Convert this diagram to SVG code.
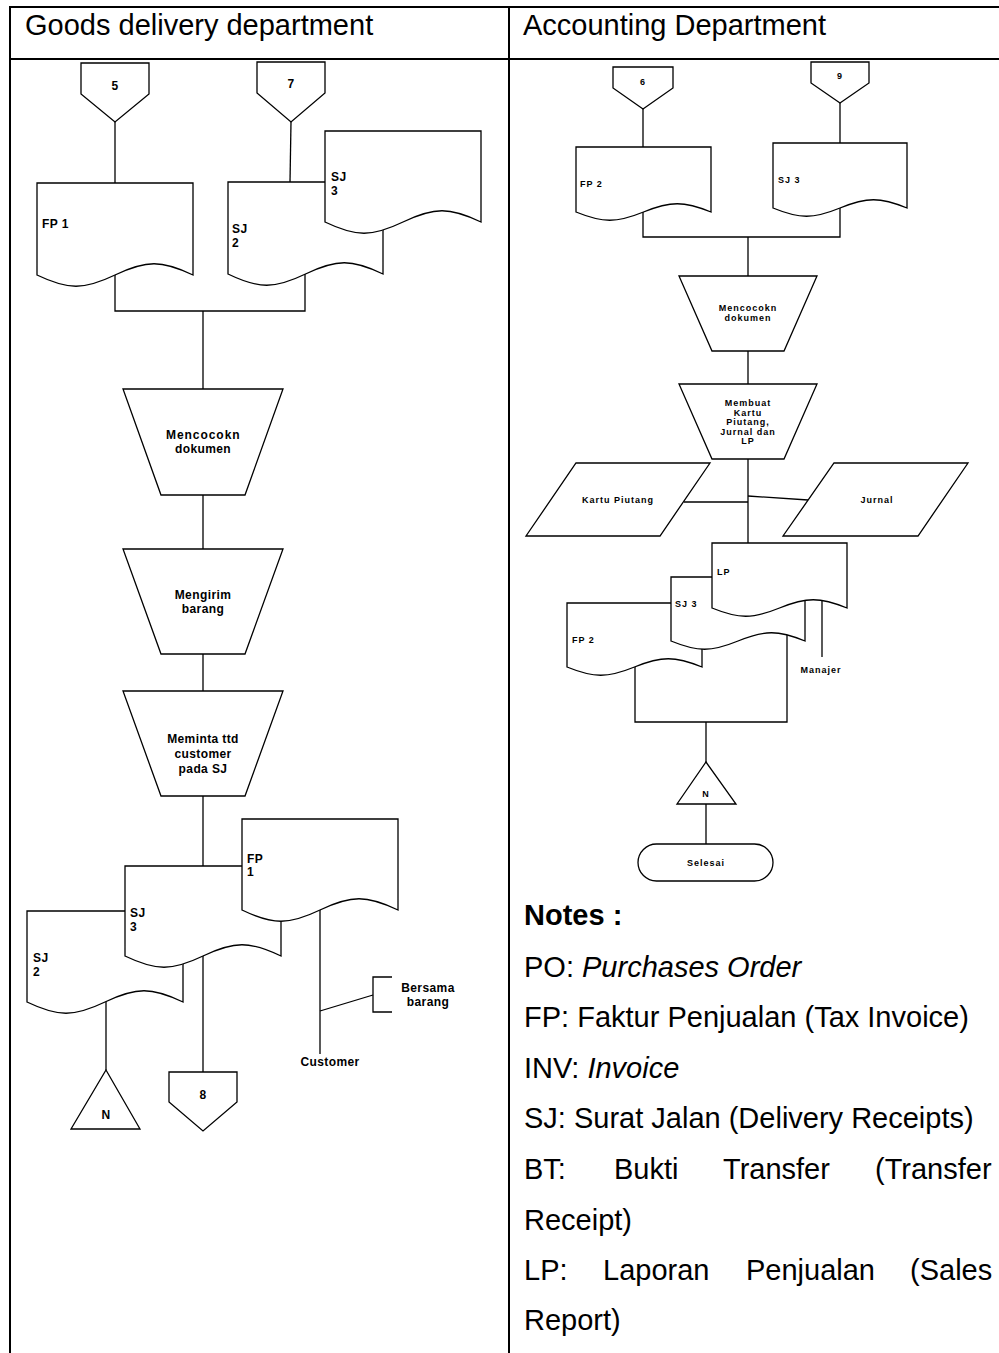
<svg xmlns="http://www.w3.org/2000/svg" width="999" height="1353" viewBox="0 0 999 1353">
  <style>
    .frame { stroke: #000; stroke-width: 2; fill: none; }
    .ln { stroke: #000; stroke-width: 1.3; fill: none; }
    .shp { stroke: #000; stroke-width: 1.3; fill: #fff; stroke-linejoin: miter; }
    .hd { font-family: "Liberation Sans", Arial, sans-serif; font-size: 29px; fill: #000; }
    .hdb { font-family: "Liberation Sans", Arial, sans-serif; font-size: 29px; font-weight: bold; fill: #000; }
    .lb { font-family: "Liberation Sans", Arial, sans-serif; font-size: 12px; font-weight: bold; letter-spacing: 0.4px; fill: #000; }
    .sm { font-family: "Liberation Sans", Arial, sans-serif; font-size: 9px; font-weight: bold; letter-spacing: 1px; fill: #000; }
    .mid { text-anchor: middle; }
  </style>

  <!-- table frame -->
  <g id="table">
    <line class="frame" x1="10" y1="7" x2="1000" y2="7"/>
    <line class="frame" x1="10" y1="59" x2="1000" y2="59"/>
    <line class="frame" x1="10" y1="6" x2="10" y2="1353"/>
    <line class="frame" x1="509" y1="6" x2="509" y2="1353"/>
    <text class="hd" x="25" y="35">Goods delivery department</text>
    <text class="hd" x="523" y="35">Accounting Department</text>
  </g>

  <!-- connectors -->
  <g id="connectors">
    <!-- goods delivery -->
    <line class="ln" x1="115" y1="122" x2="115" y2="183"/>
    <line class="ln" x1="291" y1="122" x2="290" y2="182"/>
    <polyline class="ln" points="115,268 115,311 305,311 305,268"/>
    <line class="ln" x1="203" y1="311" x2="203" y2="389"/>
    <line class="ln" x1="203" y1="495" x2="203" y2="549"/>
    <line class="ln" x1="203" y1="654" x2="203" y2="691"/>
    <line class="ln" x1="203" y1="796" x2="203" y2="866"/>
    <line class="ln" x1="106" y1="995" x2="106" y2="1070"/>
    <line class="ln" x1="203" y1="950" x2="203" y2="1072"/>
    <line class="ln" x1="320" y1="900" x2="320" y2="1054"/>
    <line class="ln" x1="320" y1="1011" x2="373" y2="995"/>
    <!-- accounting -->
    <line class="ln" x1="643" y1="109" x2="643" y2="147"/>
    <line class="ln" x1="840" y1="103" x2="840" y2="143"/>
    <polyline class="ln" points="643,205 643,237 840,237 840,200"/>
    <line class="ln" x1="748" y1="237" x2="748" y2="276"/>
    <line class="ln" x1="748" y1="351" x2="748" y2="384"/>
    <line class="ln" x1="748" y1="459" x2="748" y2="543"/>
    <line class="ln" x1="748" y1="502" x2="684" y2="502"/>
    <line class="ln" x1="748" y1="496" x2="808" y2="500"/>
    <line class="ln" x1="822" y1="595" x2="822" y2="657"/>
    <polyline class="ln" points="635,660 635,722 787,722 787,628"/>
    <line class="ln" x1="706" y1="722" x2="706" y2="762"/>
    <line class="ln" x1="706" y1="804" x2="706" y2="844"/>
  </g>

  <!-- goods delivery department nodes -->
  <g id="off5">
    <polygon class="shp" points="81,63 149,63 149,94 115,122 81,94"/>
    <text class="lb mid" x="115" y="90">5</text>
  </g>
  <g id="off7">
    <polygon class="shp" points="257,62 325,62 325,93 291,122 257,93"/>
    <text class="lb mid" x="291" y="88">7</text>
  </g>
  <g id="docFP1a">
    <path class="shp" d="M37,183 H193 V275 C161.8,260 146.2,260 115,275 C83.8,290 68.2,290 37,275 Z"/>
    <text class="lb" x="42" y="228">FP 1</text>
  </g>
  <g id="docSJ2a">
    <path class="shp" d="M228,182 H383 V274 C352,259 336.5,259 305.5,274 C274.5,289 259,289 228,274 Z"/>
    <text class="lb" x="232" y="233">SJ</text>
    <text class="lb" x="232" y="247">2</text>
  </g>
  <g id="docSJ3a">
    <path class="shp" d="M325,131 H481 V222 C449.8,207 434.2,207 403,222 C371.8,237 356.2,237 325,222 Z"/>
    <text class="lb" x="331" y="181">SJ</text>
    <text class="lb" x="331" y="195">3</text>
  </g>
  <g id="procMatchA">
    <polygon class="shp" points="123,389 283,389 245,495 161,495"/>
    <text class="lb mid" x="203" y="439" textLength="74">Mencocokn</text>
    <text class="lb mid" x="203" y="453">dokumen</text>
  </g>
  <g id="procSend">
    <polygon class="shp" points="123,549 283,549 245,654 161,654"/>
    <text class="lb mid" x="203" y="599">Mengirim</text>
    <text class="lb mid" x="203" y="613">barang</text>
  </g>
  <g id="procSign">
    <polygon class="shp" points="123,691 283,691 245,796 161,796"/>
    <text class="lb mid" x="203" y="743">Meminta ttd</text>
    <text class="lb mid" x="203" y="758">customer</text>
    <text class="lb mid" x="203" y="773">pada SJ</text>
  </g>
  <g id="docSJ2b">
    <path class="shp" d="M27,911 H183 V1002 C151.8,987 136.2,987 105,1002 C73.8,1017 58.2,1017 27,1002 Z"/>
    <text class="lb" x="33" y="962">SJ</text>
    <text class="lb" x="33" y="976">2</text>
  </g>
  <g id="docSJ3b">
    <path class="shp" d="M125,866 H281 V956 C249.8,941 234.2,941 203,956 C171.8,971 156.2,971 125,956 Z"/>
    <text class="lb" x="130" y="917">SJ</text>
    <text class="lb" x="130" y="931">3</text>
  </g>
  <g id="docFP1b">
    <path class="shp" d="M242,819 H398 V910 C366.8,895 351.2,895 320,910 C288.8,925 273.2,925 242,910 Z"/>
    <text class="lb" x="247" y="863">FP</text>
    <text class="lb" x="247" y="876">1</text>
  </g>
  <g id="noteGoods">
    <polyline class="ln" points="392,977 373,977 373,1012 392,1012"/>
    <text class="lb mid" x="428" y="992">Bersama</text>
    <text class="lb mid" x="428" y="1006">barang</text>
  </g>
  <g id="customer">
    <text class="lb mid" x="330" y="1066">Customer</text>
  </g>
  <g id="fileN1">
    <polygon class="shp" points="106,1070 140,1129 71,1129"/>
    <text class="lb mid" x="106" y="1119">N</text>
  </g>
  <g id="off8">
    <polygon class="shp" points="169,1072 237,1072 237,1102 203,1131 169,1102"/>
    <text class="lb mid" x="203" y="1099">8</text>
  </g>

  <!-- accounting department nodes -->
  <g id="off6">
    <polygon class="shp" points="613,67 673,67 673,88 643,109 613,88"/>
    <text class="sm mid" x="643" y="85">6</text>
  </g>
  <g id="off9">
    <polygon class="shp" points="811,62 869,62 869,83 840,103 811,83"/>
    <text class="sm mid" x="840" y="79">9</text>
  </g>
  <g id="docFP2a">
    <path class="shp" d="M576,147 H711 V212 C684,201 670.5,201 643.5,212 C616.5,223 603,223 576,212 Z"/>
    <text class="sm" x="580" y="187">FP 2</text>
  </g>
  <g id="docSJ3c">
    <path class="shp" d="M773,143 H907 V208 C880.2,197 866.8,197 840,208 C813.2,219 799.8,219 773,208 Z"/>
    <text class="sm" x="778" y="183">SJ 3</text>
  </g>
  <g id="procMatchB">
    <polygon class="shp" points="679,276 817,276 784,351 712,351"/>
    <text class="sm mid" x="748" y="311">Mencocokn</text>
    <text class="sm mid" x="748" y="321">dokumen</text>
  </g>
  <g id="procRecord">
    <polygon class="shp" points="679,384 817,384 784,459 712,459"/>
    <text class="sm mid" x="748" y="406">Membuat</text>
    <text class="sm mid" x="748" y="415.5">Kartu</text>
    <text class="sm mid" x="748" y="425">Piutang,</text>
    <text class="sm mid" x="748" y="434.5">Jurnal dan</text>
    <text class="sm mid" x="748" y="444">LP</text>
  </g>
  <g id="kartuPiutang">
    <polygon class="shp" points="576,463 710,463 660,536 526,536"/>
    <text class="sm mid" x="618" y="503">Kartu Piutang</text>
  </g>
  <g id="jurnal">
    <polygon class="shp" points="834,463 968,463 918,536 783,536"/>
    <text class="sm mid" x="877" y="503">Jurnal</text>
  </g>
  <g id="docFP2b">
    <path class="shp" d="M567,603 H702 V667 C675,656 661.5,656 634.5,667 C607.5,678 594,678 567,667 Z"/>
    <text class="sm" x="572" y="643">FP 2</text>
  </g>
  <g id="docSJ3d">
    <path class="shp" d="M671,577 H805 V641 C778.2,630 764.8,630 738,641 C711.2,652 697.8,652 671,641 Z"/>
    <text class="sm" x="675" y="607">SJ 3</text>
  </g>
  <g id="docLP">
    <path class="shp" d="M712,543 H847 V608 C820,597 806.5,597 779.5,608 C752.5,619 739,619 712,608 Z"/>
    <text class="sm" x="717" y="575">LP</text>
  </g>
  <g id="manajer">
    <text class="sm mid" x="821" y="673">Manajer</text>
  </g>
  <g id="fileN2">
    <polygon class="shp" points="706,762 736,804 677,804"/>
    <text class="sm mid" x="706" y="797">N</text>
  </g>
  <g id="selesai">
    <rect class="shp" x="638" y="844" width="135" height="37" rx="18.5" ry="18.5"/>
    <text class="sm mid" x="706" y="866">Selesai</text>
  </g>

  <!-- legend -->
  <g id="notes">
    <text class="hdb" x="524" y="925">Notes :</text>
    <text class="hd" x="524" y="977">PO: <tspan font-style="italic">Purchases Order</tspan></text>
    <text class="hd" x="524" y="1027">FP: Faktur Penjualan (Tax Invoice)</text>
    <text class="hd" x="524" y="1078">INV: <tspan font-style="italic">Invoice</tspan></text>
    <text class="hd" x="524" y="1128">SJ: Surat Jalan (Delivery Receipts)</text>
    <text class="hd" y="1179"><tspan x="524">BT:</tspan><tspan x="614">Bukti</tspan><tspan x="723">Transfer</tspan><tspan x="875">(Transfer</tspan></text>
    <text class="hd" x="524" y="1230">Receipt)</text>
    <text class="hd" y="1280"><tspan x="524">LP:</tspan><tspan x="603">Laporan</tspan><tspan x="746">Penjualan</tspan><tspan x="910">(Sales</tspan></text>
    <text class="hd" x="524" y="1330">Report)</text>
  </g>
</svg>
